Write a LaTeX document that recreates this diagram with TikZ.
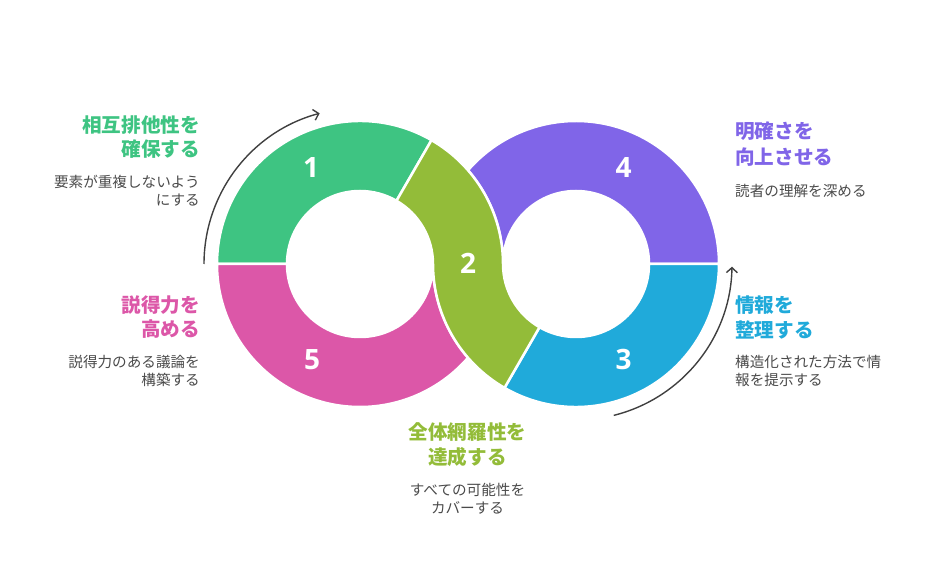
\documentclass[tikz,border=0pt]{standalone}
\usepackage{fontspec}
\usetikzlibrary{arrows.meta}
\newfontfamily\jpfont{Noto Sans CJK JP}
\newfontfamily\numfont{Open Sans}
\definecolor{cGreen}{HTML}{3EC482}
\definecolor{cOlive}{HTML}{93BC39}
\definecolor{cPurple}{HTML}{8065E8}
\definecolor{cBlue}{HTML}{20AADA}
\definecolor{cPink}{HTML}{DC57A8}
\definecolor{cText}{HTML}{4A4A4A}
\definecolor{cArrow}{HTML}{404040}
\tikzset{
  seg/.style={draw=white, line width=2.5pt, line join=round},
  num/.style={text=white, font=\numfont\bfseries\fontsize{28}{28}\selectfont, inner sep=0},
  ttl/.style={font=\jpfont\bfseries\fontsize{19.6}{19.6}\selectfont, inner sep=0},
  dsc/.style={text=cText, font=\jpfont\fontsize{14.6}{14.6}\selectfont, inner sep=0},
  cyc/.style={draw=cArrow, line width=1.4pt, -{Straight Barb[length=5pt,width=11pt,line width=1.4pt]}}
}
\begin{document}
\begin{tikzpicture}[x=1pt,y=1pt]
\useasboundingbox (0,0) rectangle (936,576);
\coordinate (L) at (360,312);
\coordinate (R) at (576,312);
% segment 1 (green)
\fill[cGreen, seg] ([shift={(60:143)}]L) arc[start angle=60,end angle=180,radius=143]
  -- ([shift={(180:73)}]L) arc[start angle=180,end angle=60,radius=73] -- cycle;
% segment 5 (pink)
\fill[cPink, seg] ([shift={(180:143)}]L) arc[start angle=180,end angle=319.06,radius=143]
  arc[start angle=220.94,end angle=180,radius=143]
  -- ([shift={(0:73)}]L) arc[start angle=0,end angle=-180,radius=73] -- cycle;
% segment 4 (purple)
\fill[cPurple, seg] ([shift={(0:143)}]R) arc[start angle=0,end angle=139.06,radius=143]
  arc[start angle=40.94,end angle=0,radius=143]
  -- ([shift={(180:73)}]R) arc[start angle=180,end angle=0,radius=73] -- cycle;
% segment 3 (blue)
\fill[cBlue, seg] ([shift={(240:143)}]R) arc[start angle=240,end angle=360,radius=143]
  -- ([shift={(0:73)}]R) arc[start angle=0,end angle=-120,radius=73] -- cycle;
% segment 2 (olive)
\fill[cOlive, seg] ([shift={(60:143)}]L) arc[start angle=60,end angle=0,radius=143]
  -- ([shift={(180:73)}]R) arc[start angle=180,end angle=240,radius=73]
  -- ([shift={(240:143)}]R) arc[start angle=240,end angle=180,radius=143]
  -- ([shift={(0:73)}]L) arc[start angle=0,end angle=60,radius=73] -- cycle;
% numbers
\node[num] (n1) at (311,408.3) {1};
\node[num] (n2) at (468,312.7) {2};
\node[num] (n3) at (623.6,216.7) {3};
\node[num] (n4) at (623.6,408.3) {4};
\node[num] (n5) at (312,216.7) {5};
% cycle arrows
\coordinate (la) at ([shift={(180:156)}]L);
\coordinate (ra) at ([shift={(-76:156)}]R);
\draw[cyc] (la) arc[start angle=180,end angle=105,radius=156];
\draw[cyc] (ra) arc[start angle=-76,end angle=-1,radius=156];
% texts: step 1
\node[ttl, text=cGreen, anchor=east] (t1a) at (200,451) {相互排他性を};
\node[ttl, text=cGreen, anchor=east] (t1b) at (200,426.7) {確保する};
\node[dsc, anchor=east] (d1a) at (200,394.3) {要素が重複しないよう};
\node[dsc, anchor=east] (d1b) at (200,376) {にする};
% step 5
\node[ttl, text=cPink, anchor=east] (t5a) at (200,271) {説得力を};
\node[ttl, text=cPink, anchor=east] (t5b) at (200,246.7) {高める};
\node[dsc, anchor=east] (d5a) at (200,214.3) {説得力のある議論を};
\node[dsc, anchor=east] (d5b) at (200,196) {構築する};
% step 2
\node[ttl, text=cOlive] (t2a) at (467.5,144.3) {全体網羅性を};
\node[ttl, text=cOlive] (t2b) at (467.5,119.3) {達成する};
\node[dsc] (d2a) at (467.5,86) {すべての可能性を};
\node[dsc] (d2b) at (467.5,67.7) {カバーする};
% step 4
\node[ttl, text=cPurple, anchor=west] (t4a) at (735,445.3) {明確さを};
\node[ttl, text=cPurple, anchor=west] (t4b) at (735,419.3) {向上させる};
\node[dsc, anchor=west] (d4a) at (735,385.3) {読者の理解を深める};
% step 3
\node[ttl, text=cBlue, anchor=west] (t3a) at (735,271) {情報を};
\node[ttl, text=cBlue, anchor=west] (t3b) at (735,246) {整理する};
\node[dsc, anchor=west] (d3a) at (735,214.3) {構造化された方法で情};
\node[dsc, anchor=west] (d3b) at (735,196) {報を提示する};
\end{tikzpicture}
\end{document}
